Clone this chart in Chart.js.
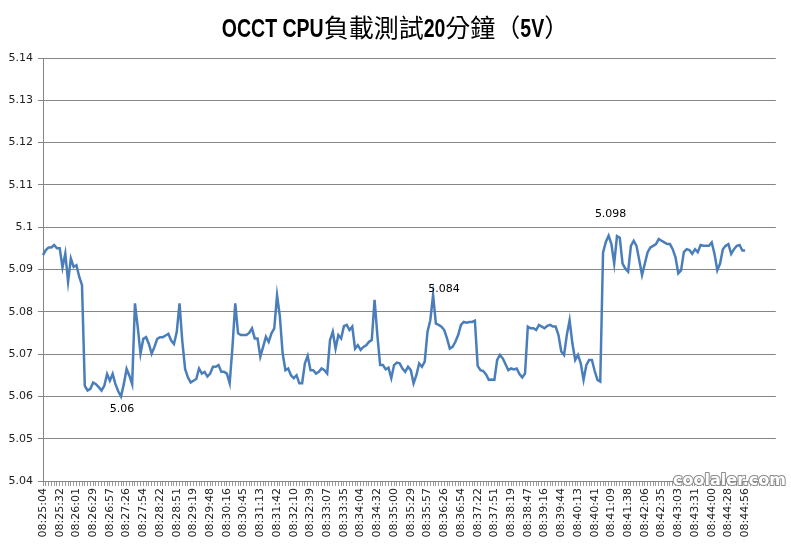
<!DOCTYPE html>
<html><head><meta charset="utf-8">
<script src="https://cdn.jsdelivr.net/npm/chart.js@4.4.1/dist/chart.umd.min.js"></script>
<style>html,body{margin:0;padding:0;background:#fff}</style>
</head><body>
<canvas id="c" width="791" height="548" style="width:791px;height:548px;display:block"></canvas>
<script>
// ---------- data ----------
const titleParts = [
  ['OCCT CPU', 'latin'], ['負載測試', 'cjk'], ['20', 'latin'], ['分鐘', 'cjk'],
  ['（', 'cjk'], ['5V', 'latin'], ['）', 'cjk']
];
const tickLabels = [
  '08:25:04','08:25:32','08:26:01','08:26:29','08:26:57','08:27:26','08:27:54','08:28:22',
  '08:28:51','08:29:19','08:29:48','08:30:16','08:30:45','08:31:13','08:31:42','08:32:10',
  '08:32:39','08:33:07','08:33:35','08:34:04','08:34:32','08:35:00','08:35:29','08:35:57',
  '08:36:26','08:36:54','08:37:22','08:37:51','08:38:19','08:38:47','08:39:16','08:39:44',
  '08:40:13','08:40:41','08:41:09','08:41:38','08:42:06','08:42:35','08:43:03','08:43:31',
  '08:44:00','08:44:28','08:44:56'
];
const samplesPerLabel = 6;   // samples between two labelled ticks
const slotCount = 264;        // category slots along the axis (data + empty tail)

const volts1 = [5.0934,5.0946,5.0952,5.0952,5.0958,5.095,5.095,5.0905,5.0938,5.0871,
  5.0926,5.0906,5.091,5.0883,5.0863,5.0625,5.0614,5.0618,5.0633,5.0629,
  5.0622,5.0614,5.0625,5.0653,5.0637,5.0653,5.0629,5.0612,5.06,5.0629,
  5.0665,5.0649,5.0629,5.082,5.0764,5.0701,5.0736,5.074,5.0724,5.0701,
  5.0717,5.0736,5.074,5.074,5.0744,5.0748,5.0732,5.0724,5.0752,5.082];
const volts2 = [5.073,5.0665,5.0645,5.0633,5.0637,5.0641,5.0666,5.0654,5.0658,5.0647,
  5.0654,5.067,5.067,5.0674,5.0658,5.0658,5.0654,5.0631,5.0717,5.082,
  5.0749,5.0745,5.0745,5.0745,5.075,5.0761,5.0737,5.0737,5.0694,5.0717,
  5.0741,5.0729,5.0749,5.0761,5.0839,5.079,5.0702,5.0662,5.0666,5.065,
  5.0643,5.065,5.0631,5.0631,5.0678,5.0696,5.0662,5.0662,5.0654,5.0658];
const volts3 = [5.0666,5.0662,5.0654,5.0733,5.0753,5.0713,5.0745,5.0737,5.0766,5.0769,
  5.0757,5.0765,5.0713,5.0721,5.071,5.0717,5.0721,5.0729,5.0733,5.0828,
  5.0745,5.0674,5.0674,5.0664,5.0668,5.0643,5.0674,5.068,5.0678,5.0666,
  5.0658,5.067,5.0662,5.0631,5.065,5.0678,5.067,5.0682,5.0753,5.078,
  5.084,5.0772,5.0769,5.0765,5.0757,5.0737,5.0713,5.0717,5.0729,5.0745];
const volts4 = [5.0769,5.0776,5.0774,5.0776,5.0776,5.0779,5.0672,5.0662,5.066,5.0652,
  5.0639,5.064,5.0639,5.0686,5.0698,5.069,5.0676,5.0662,5.0666,5.0664,
  5.0666,5.0653,5.0645,5.0654,5.0765,5.0761,5.0761,5.0757,5.0769,5.0765,
  5.0761,5.0767,5.0769,5.0765,5.0765,5.0745,5.0706,5.0698,5.0745,5.078,
  5.0725,5.0686,5.0698,5.0678,5.0639,5.0674,5.0686,5.0686,5.066,5.0639];
const volts5 = [5.0635,5.094,5.0965,5.098,5.096,5.0914,5.0979,5.0975,5.0914,5.0902,
  5.0895,5.0956,5.0968,5.0956,5.0922,5.0887,5.0914,5.0941,5.0952,5.0956,
  5.096,5.0972,5.0968,5.0964,5.096,5.096,5.0948,5.0929,5.0891,5.0898,
  5.0941,5.0948,5.0946,5.0937,5.0948,5.0941,5.0958,5.0956,5.0956,5.0956,
  5.0964,5.0937,5.0898,5.0914,5.0948,5.0956,5.096,5.0937,5.0948,5.0956,
  5.0958,5.0945,5.0945];
const labelledPoints = [28, 140, 203];
const labelOffsets = [[1, 13], [11, -6], [2, -22]];
const yMin = 5.04, yMax = 5.14, yStep = 0.01;

// ---------- build ----------
const volts = [].concat(volts1, volts2, volts3, volts4, volts5);
const categories = Array.from({length: slotCount}, (_, i) =>
  (i % samplesPerLabel === 0 && tickLabels[i / samplesPerLabel]) ? tickLabels[i / samplesPerLabel] : '');
const seriesData = categories.map((_, i) => i < volts.length ? volts[i] : null);

const titlePlugin = {
  id: 'mixedTitle',
  afterDraw(chart) {
    const ctx = chart.ctx;
    const fonts = {
      latin: 'bold 25px "Liberation Sans", "DejaVu Sans", sans-serif',
      cjk: '25px "Noto Sans CJK TC", "Noto Sans CJK SC", sans-serif'
    };
    const sx = { latin: 0.78, cjk: 1 };
    ctx.save();
    let total = 0;
    const widths = titleParts.map(([t, k]) => { ctx.font = fonts[k]; const w = ctx.measureText(t).width * sx[k]; total += w; return w; });
    let x = 395.5 - total / 2;
    ctx.fillStyle = '#000';
    ctx.textBaseline = 'alphabetic';
    ctx.textAlign = 'left';
    titleParts.forEach(([t, k], i) => {
      ctx.save();
      ctx.font = fonts[k];
      ctx.translate(x, 37);
      ctx.scale(sx[k], 1);
      ctx.fillText(t, 0, 0);
      ctx.restore();
      x += widths[i];
    });
    ctx.restore();
  }
};

const pointLabelPlugin = {
  id: 'pointLabels',
  afterDatasetsDraw(chart) {
    const ctx = chart.ctx;
    const meta = chart.getDatasetMeta(0);
    ctx.save();
    ctx.font = '11px "DejaVu Sans", sans-serif';
    ctx.fillStyle = '#000';
    ctx.textAlign = 'center';
    ctx.textBaseline = 'middle';
    labelledPoints.forEach((idx, k) => {
      const p = meta.data[idx];
      ctx.fillText(String(seriesData[idx]), p.x + labelOffsets[k][0], p.y + labelOffsets[k][1]);
    });
    ctx.restore();
  }
};

const watermarkPlugin = {
  id: 'watermark',
  afterDraw(chart) {
    const ctx = chart.ctx;
    ctx.save();
    ctx.font = 'bold 16px "DejaVu Sans", sans-serif';
    ctx.textAlign = 'right';
    ctx.textBaseline = 'alphabetic';
    ctx.lineWidth = 2;
    ctx.lineJoin = 'round';
    ctx.strokeStyle = '#8a8a8a';
    ctx.strokeText('coolaler.com', 786, 485);
    ctx.fillStyle = '#ffffff';
    ctx.fillText('coolaler.com', 786, 485);
    ctx.restore();
  }
};

new Chart(document.getElementById('c'), {
  type: 'line',
  data: {
    labels: categories,
    datasets: [{
      data: seriesData,
      borderColor: '#4a7ebb',
      borderWidth: 2.5,
      pointRadius: 0,
      tension: 0,
      fill: false,
      spanGaps: false
    }]
  },
  options: {
    responsive: false,
    animation: false,
    devicePixelRatio: 1,
    layout: { padding: { top: 58, right: 7, left: 0, bottom: 0 } },
    plugins: { legend: { display: false }, title: { display: false }, tooltip: { enabled: false } },
    scales: {
      x: {
        type: 'category',
        afterFit(scale) { scale.height = 67; },
        grid: { drawOnChartArea: false, drawTicks: true, tickLength: 5, color: '#9a9a9a', lineWidth: 1 },
        border: { display: true, color: '#868686' },
        ticks: {
          autoSkip: false, maxRotation: 90, minRotation: 90, padding: 2,
          color: '#222', font: { family: '"DejaVu Sans", sans-serif', size: 11 }
        }
      },
      y: {
        min: yMin, max: yMax,
        afterFit(scale) { scale.width = 43; },
        grid: { color: '#868686', lineWidth: 1, tickLength: 5 },
        border: { display: true, color: '#868686' },
        ticks: {
          stepSize: yStep, padding: 5, color: '#222',
          font: { family: '"DejaVu Sans", sans-serif', size: 11 },
          callback: (v) => String(+Number(v).toFixed(2))
        }
      }
    }
  },
  plugins: [titlePlugin, pointLabelPlugin, watermarkPlugin]
});
</script>
</body></html>
